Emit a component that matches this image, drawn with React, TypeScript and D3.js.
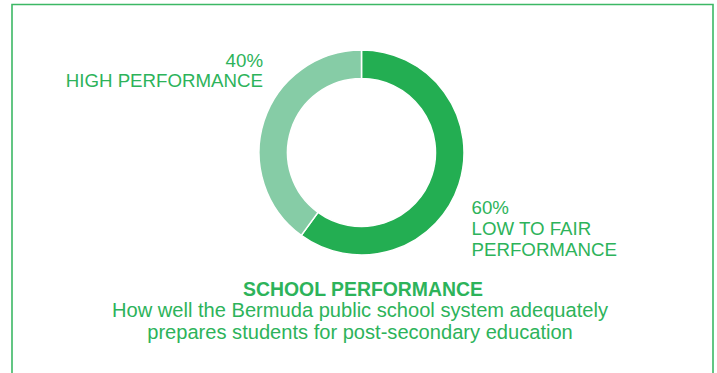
import React from "react";
import * as d3 from "d3";

const categories = ["LOW TO FAIR PERFORMANCE", "HIGH PERFORMANCE"];
const values = [60, 40];
const colors = ["#23ae52", "#86cca6"];
const title = "SCHOOL PERFORMANCE";
const subtitleLines = [
  "How well the Bermuda public school system adequately",
  "prepares students for post-secondary education",
];

const W = 717;
const H = 373;
const TEXT = "#2db35a";
const FONT = "'Liberation Sans', Arial, Helvetica, sans-serif";

export default function App() {
  const cx = 361.5;
  const cy = 152.5;
  const outer = 102.5;
  const inner = 74;

  const pie = d3.pie<number>().sort(null).value((d) => d)(values);
  const arc = d3.arc<d3.PieArcDatum<number>>().innerRadius(inner).outerRadius(outer);

  return (
    <svg
      width={W}
      height={H}
      style={{ position: "absolute", left: 0, top: 0, background: "#fff" }}
    >
      <path
        d={`M12,${H + 5} V4.5 H713 V${H + 5}`}
        fill="none"
        stroke="#3cb865"
        strokeWidth={1.6}
      />
      <g transform={`translate(${cx},${cy})`}>
        {pie.map((p, i) => (
          <path key={i} d={arc(p) || ""} fill={colors[i]} stroke="#fff" strokeWidth={1.5} />
        ))}
      </g>
      <g fill={TEXT} fontFamily={FONT} fontSize={18.7}>
        <text x={263} y={66.5} textAnchor="end">{values[1]}%</text>
        <text x={263} y={86.5} textAnchor="end">{categories[1]}</text>
        <text x={471.5} y={213.5}>{values[0]}%</text>
        <text x={471.5} y={235}>LOW TO FAIR</text>
        <text x={471.5} y={256}>PERFORMANCE</text>
      </g>
      <text
        x={363}
        y={295.5}
        textAnchor="middle"
        fill={TEXT}
        fontFamily={FONT}
        fontSize={19.4}
        fontWeight="bold"
      >
        {title}
      </text>
      {subtitleLines.map((s, i) => (
        <text
          key={i}
          x={360}
          y={317 + i * 21.5}
          textAnchor="middle"
          fill={TEXT}
          fontFamily={FONT}
          fontSize={20.1}
        >
          {s}
        </text>
      ))}
    </svg>
  );
}
